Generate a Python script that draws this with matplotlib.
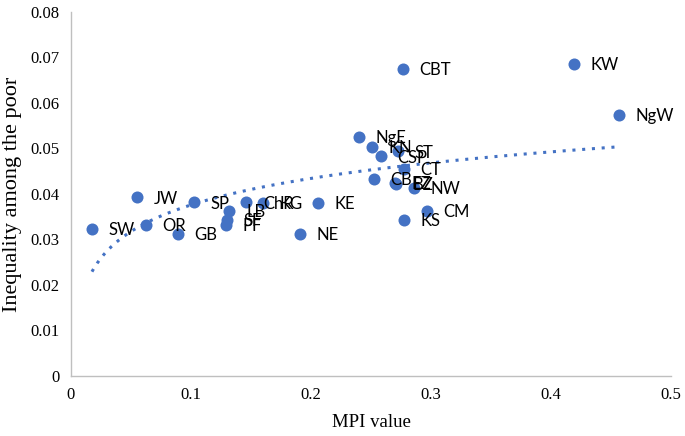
import numpy as np
import matplotlib
matplotlib.use("Agg")
import matplotlib.pyplot as plt

# regions and their values
labels = ["SW", "JW", "OR", "GB", "SP", "LB", "SF", "PF", "ChR", "KG", "KE", "NE",
          "NgE", "KN", "CSP", "ST", "CT", "CB", "EZ", "BZ", "NW", "CM", "KS",
          "CBT", "KW", "NgW"]
mpi = [0.0175, 0.055, 0.0625, 0.089, 0.1025, 0.132, 0.130, 0.129, 0.146, 0.160, 0.206, 0.191,
       0.240, 0.251, 0.258, 0.2725, 0.2775, 0.2525, 0.270, 0.271, 0.286, 0.2965, 0.2775,
       0.2767, 0.419, 0.4567]
inequality = [0.0323, 0.0393, 0.0332, 0.0312, 0.0382, 0.0363, 0.0343, 0.0332, 0.0382, 0.0381, 0.0381, 0.0312,
              0.0525, 0.0503, 0.0483, 0.0494, 0.0455, 0.0433, 0.0424, 0.0422, 0.0413, 0.0363, 0.0343,
              0.0675, 0.0686, 0.0574]

x = np.array(mpi)
y = np.array(inequality)

fig = plt.figure(figsize=(6.85, 4.36), dpi=100)
ax = fig.add_axes([0.1036, 0.1376, 0.876, 0.835])

blue = "#4472C4"
ax.scatter(x, y, s=75, color=blue, zorder=3, linewidths=0)

# logarithmic trend line, like the spreadsheet one
a, b = np.polyfit(np.log(x), y, 1)
xt = np.linspace(x.min(), x.max(), 300)
ax.plot(xt, a * np.log(xt) + b, linestyle=(0, (1, 2.2)), color=blue, linewidth=2.2, zorder=2)

for lab, xi, yi in zip(labels, x, y):
    ax.annotate(lab, (xi, yi), xytext=(12, -1), textcoords="offset points",
                va="center", ha="left", fontsize=12, family="Lato", color="black")

ax.set_xlim(0, 0.5)
ax.set_ylim(0, 0.08)
ax.set_xticks([0, 0.1, 0.2, 0.3, 0.4, 0.5])
ax.set_xticklabels(["0", "0.1", "0.2", "0.3", "0.4", "0.5"])
ax.set_yticks(np.arange(0, 0.081, 0.01))
ax.set_yticklabels(["0"] + ["%.2f" % v for v in np.arange(0.01, 0.081, 0.01)])
ax.tick_params(length=0, labelsize=12, pad=8)
for t in ax.get_xticklabels() + ax.get_yticklabels():
    t.set_family("Liberation Serif")

for side in ["top", "right"]:
    ax.spines[side].set_visible(False)
for side in ["left", "bottom"]:
    ax.spines[side].set_color("#BFBFBF")
    ax.spines[side].set_linewidth(1)

ax.set_xlabel("MPI value", fontsize=13.5, family="Liberation Serif", labelpad=8)
ax.set_ylabel("Inequality among the poor", fontsize=16, family="Liberation Serif", labelpad=6)

fig.savefig("out.png", dpi=100)
